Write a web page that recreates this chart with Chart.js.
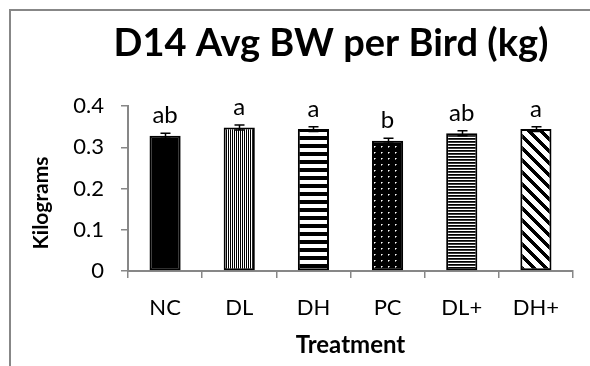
<!DOCTYPE html>
<html>
<head>
<meta charset="utf-8">
<script src="https://cdn.jsdelivr.net/npm/chart.js@4/dist/chart.umd.min.js"></script>
<style>
  html, body { margin: 0; padding: 0; background: #fff; }
  #c { display: block; }
</style>
</head>
<body>
<canvas id="c" width="590" height="366"></canvas>
<script>
// Day-14 average body weight per bird, by treatment
const treatments = ['NC', 'DL', 'DH', 'PC', 'DL+', 'DH+'];
const avgBW      = [0.328, 0.348, 0.344, 0.316, 0.334, 0.344];
const stdErr     = [0.006, 0.006, 0.006, 0.006, 0.006, 0.006];
const sigLetters = ['ab', 'a', 'a', 'b', 'ab', 'a'];
const yTicks     = [0, 0.1, 0.2, 0.3, 0.4];

const chartTitle = 'D14 Avg BW per Bird (kg)';
const xTitle = 'Treatment';
const yTitle = 'Kilograms';

const canvas = document.getElementById('c');
const ctx = canvas.getContext('2d');

// Build a repeating monochrome fill from a per-pixel rule (0 = black, 255 = white)
function tilePattern(w, h, rule) {
  const t = document.createElement('canvas');
  t.width = w; t.height = h;
  const g = t.getContext('2d');
  const img = g.createImageData(w, h);
  for (let y = 0; y < h; y++) {
    for (let x = 0; x < w; x++) {
      const v = rule(x, y);
      const k = (y * w + x) * 4;
      img.data[k] = img.data[k + 1] = img.data[k + 2] = v;
      img.data[k + 3] = 255;
    }
  }
  g.putImageData(img, 0, 0);
  return ctx.createPattern(t, 'repeat');
}

// white specks on black, slightly soft around the centre pixel
function dotRule(x, y) {
  if (x === 3 && y === 2) return 255;
  if ((x === 4 && y === 2) || (x === 3 && y === 3)) return 150;
  return 0;
}

const fills = [
  '#000000',                                                        // solid
  tilePattern(2, 1, (x) => (x === 0 ? 0 : 255)),                    // fine vertical lines
  tilePattern(1, 8, (x, y) => (y < 4 ? 0 : 255)),                   // wide horizontal bands
  tilePattern(7, 6, dotRule),                                       // dotted
  tilePattern(1, 3, (x, y) => (y === 0 ? 0 : (y === 1 ? 60 : 255))), // fine horizontal lines
  tilePattern(12, 12, (x, y) => ((((x - y) % 12) + 12) % 12 < 5 ? 0 : 255)) // wide diagonal
];

const FONT = 'Lato, "Open Sans", sans-serif';

// Outer chart frame and white background
const framePlugin = {
  id: 'frame',
  beforeDraw(chart) {
    const c = chart.ctx;
    c.save();
    c.fillStyle = '#ffffff';
    c.fillRect(0, 0, chart.width, chart.height);
    c.strokeStyle = '#878787';
    c.lineWidth = 2;
    c.strokeRect(10, 10, 800, 600);
    c.restore();
  }
};

// Standard-error bars with caps, plus significance letters above them
const errorBarPlugin = {
  id: 'errorBars',
  afterDatasetsDraw(chart) {
    const c = chart.ctx;
    const meta = chart.getDatasetMeta(0);
    const ys = chart.scales.y;
    c.save();
    c.strokeStyle = '#000';
    c.lineWidth = 1.5;
    meta.data.forEach((bar, i) => {
      const x = Math.round(bar.x) + 0.5;
      const hi = ys.getPixelForValue(avgBW[i] + stdErr[i]);
      const lo = ys.getPixelForValue(avgBW[i] - stdErr[i]);
      c.beginPath();
      c.moveTo(x, lo); c.lineTo(x, hi);
      c.moveTo(x - 5, hi); c.lineTo(x + 5, hi);
      c.moveTo(x - 5, lo); c.lineTo(x + 5, lo);
      c.stroke();

      c.fillStyle = '#000';
      c.font = '24px ' + FONT;
      c.textAlign = 'center';
      c.textBaseline = 'alphabetic';
      c.fillText(sigLetters[i], bar.x, hi - 10);
    });
    c.restore();
  }
};

// Chart title and axis titles
const titlesPlugin = {
  id: 'titles',
  afterDraw(chart) {
    const c = chart.ctx;
    const area = chart.chartArea;
    c.save();
    c.fillStyle = '#000';
    c.textBaseline = 'alphabetic';
    c.textAlign = 'center';

    c.font = 'bold 38px ' + FONT;
    c.fillText(chartTitle, 331, 56);

    c.font = 'bold 24px ' + FONT;
    c.fillText(xTitle, (area.left + area.right) / 2, 353);

    c.translate(48, 203);
    c.rotate(-Math.PI / 2);
    c.font = 'bold 21px ' + FONT;
    c.fillText(yTitle, 0, 0);
    c.restore();
  }
};

function draw() {
  new Chart(ctx, {
    type: 'bar',
    data: {
      labels: treatments,
      datasets: [{
        data: avgBW,
        backgroundColor: fills,
        borderColor: '#000',
        borderWidth: 2,
        borderSkipped: false,
        barPercentage: 0.42,
        categoryPercentage: 1
      }]
    },
    options: {
      responsive: false,
      animation: false,
      devicePixelRatio: 1,
      layout: { padding: { left: 0, right: 17, top: 106, bottom: 0 } },
      plugins: {
        legend: { display: false },
        title: { display: false },
        tooltip: { enabled: false }
      },
      scales: {
        x: {
          grid: { display: true, drawOnChartArea: false, offset: true, tickLength: 7, color: '#878787', lineWidth: 1.5 },
          border: { color: '#878787', width: 2 },
          ticks: { color: '#000', font: { family: FONT, size: 22 }, padding: 17, maxRotation: 0 },
          afterFit(scale) { scale.height = 95; }
        },
        y: {
          min: 0,
          max: 0.4,
          grid: { drawOnChartArea: false, tickLength: 7, color: '#878787', lineWidth: 1.5 },
          border: { color: '#878787', width: 2 },
          ticks: { color: '#000', font: { family: FONT, size: 22 }, padding: 17 },
          afterBuildTicks(scale) { scale.ticks = yTicks.map(v => ({ value: v })); },
          afterFit(scale) { scale.width = 128; }
        }
      }
    },
    plugins: [framePlugin, errorBarPlugin, titlesPlugin]
  });
}

if (document.fonts && document.fonts.load) {
  Promise.all([
    document.fonts.load('22px Lato'),
    document.fonts.load('bold 38px Lato')
  ]).then(draw, draw);
} else {
  draw();
}
</script>
</body>
</html>
